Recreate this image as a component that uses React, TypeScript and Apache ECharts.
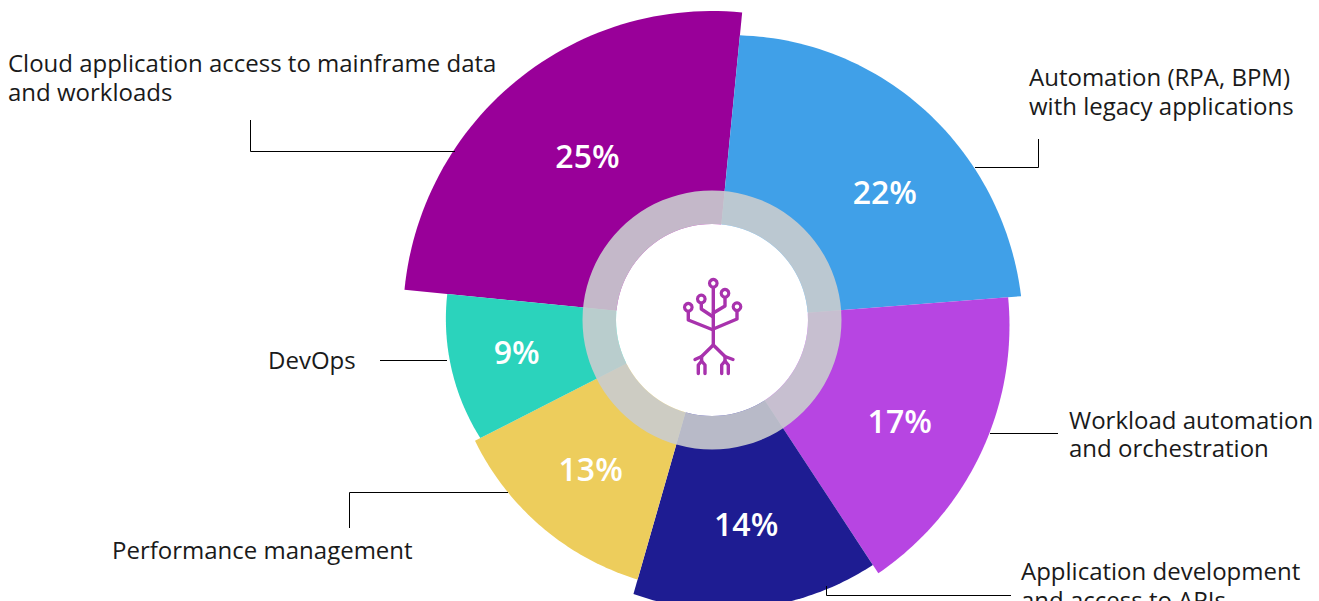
import React, { useEffect, useRef } from "react";
import * as echarts from "echarts";

const segments = ["Cloud application access to mainframe data and workloads", "Automation (RPA, BPM) with legacy applications", "Workload automation and orchestration", "Application development and access to APIs", "Performance management", "DevOps"];
const percentLabels = [25, 22, 17, 14, 13, 9];
const colors = ["#990099", "#40A0E8", "#B745E2", "#1E1C92", "#EDCD5C", "#2BD3BC"];
const startAngles = [275.6, 5.6, 85.6, 146.7, 196, 243];
const endAngles = [365.6, 85.6, 146.7, 196, 243, 275.6];
const radiusStart = [309, 286, 297, 293, 270, 260];
const radiusMid = [309, 299, 300, 291, 268, 265];
const radiusEnd = [309, 310, 303, 285, 266, 266];
const labelRadius = [206, 215, 213, 207, 192, 198];
const labelAngle = [322.8, 53.5, 118.2, 170.5, 219.2, 260.6];

const CX = 712, CY = 320;
const FONT = '"Open Sans", sans-serif';

const callouts: number[][][] = [
  [[250.5, 120], [250.5, 151.5], [455, 151.5]],
  [[975, 167.5], [1038.5, 167.5], [1038.5, 139]],
  [[990, 433.5], [1058, 433.5]],
  [[826.5, 586], [826.5, 595.5], [1011, 595.5]],
  [[508, 492.5], [349.5, 492.5], [349.5, 528]],
  [[380, 360.5], [447, 360.5]],
];
const texts: [string, number, number][] = [
  ["Cloud application access to mainframe data", 8, 62],
  ["and workloads", 8, 91.5],
  ["Automation (RPA, BPM)", 1029, 76],
  ["with legacy applications", 1029, 105.5],
  ["DevOps", 268, 359],
  ["Workload automation", 1069, 419],
  ["and orchestration", 1069, 447.5],
  ["Application development", 1021, 570],
  ["and access to APIs", 1021, 599],
  ["Performance management", 112, 549],
];
const LOGO = "#A832AD";
const logoCircles = [[713.3, 283.3], [701.3, 299], [725, 293.3], [688.3, 307.3], [737, 306.7]];
const logoLines: number[][][] = [
  [[713.3, 288], [713.3, 345]],
  [[688.3, 311.5], [688.3, 320], [713.3, 330]],
  [[737, 311], [737, 319], [713.3, 329]],
  [[701.3, 303], [701.3, 309], [713.3, 317]],
  [[725, 297.5], [725, 306], [713.3, 313]],
  [[695, 359.5], [701.6, 356.5], [713.3, 345], [725, 356.5], [733, 359.5]],
  [[701.6, 356.5], [701.6, 361]],
  [[725, 356.5], [725, 361]],
  [[698.3, 373.5], [698.3, 365], [701.6, 361], [705, 365], [705, 373.5]],
  [[721.7, 373.5], [721.7, 365], [725, 361], [728.3, 365], [728.3, 373.5]],
];

function App() {
  const ref = useRef<HTMLDivElement>(null);
  useEffect(() => {
    document.body.style.margin = "0";
    const chart = echarts.init(ref.current!, undefined, { renderer: "svg" });
    const renderItem = (params: any, api: any) => {
      const i = params.dataIndex;
      const a0 = startAngles[i];
      const a1 = endAngles[i];
      const pts: number[][] = [api.coord([96, a0 % 360])];
      const n = 60;
      for (let k = 0; k <= n; k++) {
        const t = k / n;
        const r = radiusStart[i] * (1 - t) * (1 - 2 * t) + radiusMid[i] * 4 * t * (1 - t) + radiusEnd[i] * t * (2 * t - 1);
        pts.push(api.coord([r, (a0 + (a1 - a0) * t) % 360]));
      }
      pts.push(api.coord([96, a1 % 360]));
      const lp = api.coord([api.value(0), api.value(1)]);
      return {
        type: "group",
        children: [
          { type: "polygon", shape: { points: pts }, style: { fill: colors[i] } },
          {
            type: "text", x: lp[0], y: lp[1] - 0.5, z2: 5,
            style: { text: percentLabels[i] + "%", fill: "#fff", fontSize: 32, fontWeight: 600, fontFamily: FONT, align: "center", verticalAlign: "middle" },
          },
        ],
      };
    };
    chart.setOption({
      animation: false,
      polar: { center: [CX, CY], radius: 320 },
      angleAxis: { show: false, type: "value", min: 0, max: 360, startAngle: 90, clockwise: true },
      radiusAxis: { show: false, type: "value", min: 0, max: 320 },
      series: [
        {
          type: "custom", coordinateSystem: "polar", renderItem, z: 2, silent: true,
          encode: { radius: 0, angle: 1 },
          data: percentLabels.map((_, i) => ({ name: segments[i], value: [labelRadius[i], labelAngle[i]] })),
        },
        {
          type: "pie", z: 3, center: [CX, CY], radius: [96, 129.5], silent: true,
          label: { show: false }, labelLine: { show: false },
          data: [{ value: 1, itemStyle: { color: "rgba(201,204,206,0.9)" } }],
        },
        {
          type: "pie", z: 3, center: [CX, CY], radius: [0, 96], silent: true,
          label: { show: false }, labelLine: { show: false },
          data: [{ value: 1, itemStyle: { color: "#fff" } }],
        },
      ],
      graphic: {
        elements: [
          ...callouts.map((p) => ({ type: "polyline", z: 10, shape: { points: p }, style: { stroke: "#000", lineWidth: 1, fill: "none" } })),
          ...texts.map(([t, x, y]) => ({ type: "text", z: 10, x, y, style: { text: t, fill: "#1a1a1a", fontSize: 24, fontFamily: FONT, align: "left", verticalAlign: "middle" } })),
          ...logoLines.map((p) => ({ type: "polyline", z: 20, shape: { points: p }, style: { stroke: LOGO, lineWidth: 3.4, fill: "none", lineCap: "round", lineJoin: "round" } })),
          ...logoCircles.map(([x, y]) => ({ type: "circle", z: 20, shape: { cx: x, cy: y, r: 3.8 }, style: { stroke: LOGO, lineWidth: 3.2, fill: "#fff" } })),
        ],
      },
    });
    return () => chart.dispose();
  }, []);
  return <div ref={ref} style={{ width: 1319, height: 601, overflow: "hidden" }} />;
}

export default App;
